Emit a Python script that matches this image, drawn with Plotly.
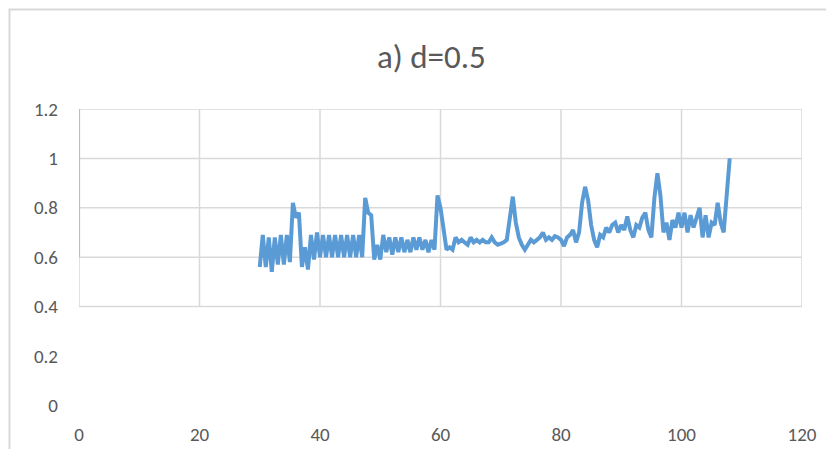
import plotly.graph_objects as go

# ---- data ----
x_vals = [30.0, 30.5, 31.0, 31.5, 32.0, 32.5, 33.0, 33.5, 34.0, 34.5,
          35.0, 35.5, 36.0, 36.5, 37.0, 37.5, 38.0, 38.5, 39.0, 39.5,
          40.0, 40.5, 41.0, 41.5, 42.0, 42.5, 43.0, 43.5, 44.0, 44.5,
          45.0, 45.5, 46.0, 46.5, 47.0, 47.5, 48.0, 48.5, 49.0, 49.5,
          50.0, 50.5, 51.0, 51.5, 52.0, 52.5, 53.0, 53.5, 54.0, 54.5,
          55.0, 55.5, 56.0, 56.5, 57.0, 57.5, 58.0, 58.5, 59.0, 59.5,
          60.0, 60.5, 61.0, 61.5, 62.0, 62.5, 63.0, 63.5, 64.0, 64.5,
          65.0, 65.5, 66.0, 66.5, 67.0, 67.5, 68.0, 68.5, 69.0, 69.5,
          70.0, 70.5, 71.0, 71.5, 72.0, 72.5, 73.0, 73.5, 74.0, 74.5,
          75.0, 75.5, 76.0, 76.5, 77.0, 77.5, 78.0, 78.5, 79.0, 79.5,
          80.0, 80.5, 81.0, 81.5, 82.0, 82.5, 83.0, 83.5, 84.0, 84.5,
          85.0, 85.5, 86.0, 86.5, 87.0, 87.5, 88.0, 88.5, 89.0, 89.5,
          90.0, 90.5, 91.0, 91.5, 92.0, 92.5, 93.0, 93.5, 94.0, 94.5,
          95.0, 95.5, 96.0, 96.5, 97.0, 97.5, 98.0, 98.5, 99.0, 99.5,
          100.0, 100.5, 101.0, 101.5, 102.0, 102.5, 103.0, 103.5, 104.0, 104.5,
          105.0, 105.5, 106.0, 106.5, 107.0, 107.5, 108.0]

y_vals = [0.56, 0.69, 0.56, 0.68, 0.54, 0.68, 0.57, 0.69, 0.57, 0.69,
          0.58, 0.82, 0.76, 0.78, 0.56, 0.64, 0.55, 0.69, 0.59, 0.70,
          0.60, 0.69, 0.60, 0.69, 0.60, 0.69, 0.60, 0.69, 0.60, 0.69,
          0.60, 0.69, 0.60, 0.69, 0.60, 0.84, 0.78, 0.77, 0.59, 0.65,
          0.59, 0.69, 0.62, 0.68, 0.61, 0.68, 0.62, 0.68, 0.62, 0.67,
          0.62, 0.68, 0.63, 0.68, 0.63, 0.67, 0.62, 0.67, 0.63, 0.85,
          0.80, 0.72, 0.63, 0.64, 0.63, 0.68, 0.66, 0.67, 0.66, 0.65,
          0.68, 0.66, 0.67, 0.66, 0.67, 0.66, 0.66, 0.68, 0.66, 0.65,
          0.655, 0.66, 0.67, 0.75, 0.845, 0.74, 0.68, 0.65, 0.63, 0.65,
          0.67, 0.66, 0.67, 0.68, 0.70, 0.67, 0.68, 0.67, 0.685, 0.68,
          0.67, 0.645, 0.68, 0.69, 0.71, 0.66, 0.70, 0.82, 0.885, 0.83,
          0.73, 0.67, 0.64, 0.69, 0.68, 0.72, 0.70, 0.73, 0.74, 0.70,
          0.73, 0.71, 0.765, 0.71, 0.68, 0.73, 0.72, 0.76, 0.78, 0.71,
          0.68, 0.84, 0.94, 0.85, 0.70, 0.74, 0.67, 0.75, 0.72, 0.78,
          0.72, 0.78, 0.70, 0.77, 0.72, 0.76, 0.80, 0.68, 0.77, 0.68,
          0.74, 0.73, 0.82, 0.74, 0.70, 0.85, 1.00]

x_ticks = [0, 20, 40, 60, 80, 100, 120]
y_ticks = [0, 0.2, 0.4, 0.6, 0.8, 1.0, 1.2]
y_tick_labels = ["0", "0.2", "0.4", "0.6", "0.8", "1", "1.2"]
grid_y = [0.4, 0.6, 0.8, 1.0, 1.2]
title_text = "a) d=0.5"

FONT = "Carlito, Calibri, Lato, sans-serif"
TXT = "#595959"
GRID = "#D9D9D9"

# the page body has an 8px margin, so the figure is laid out 8px smaller
W, H = 826, 441
L, R, T, B = 71, 32, 101, 28
pw, ph = W - L - R, H - T - B
y_min = -((H - B) - 397.3) / 246.5

fig = go.Figure()
fig.add_trace(go.Scatter(x=x_vals, y=y_vals, mode="lines",
                         line=dict(color="#5B9BD5", width=4),
                         hoverinfo="x+y", showlegend=False))

shapes = []
for gy in grid_y:
    shapes.append(dict(type="line", xref="x", yref="y", x0=x_ticks[0], x1=x_ticks[-1],
                       y0=gy, y1=gy, line=dict(color=GRID, width=1.5), layer="below"))
for gx in x_ticks:
    shapes.append(dict(type="line", xref="x", yref="y", x0=gx, x1=gx,
                       y0=grid_y[0], y1=grid_y[-1], line=dict(color=GRID, width=1.5), layer="below"))
# darker left edge segment
shapes.append(dict(type="line", xref="x", yref="y", x0=0, x1=0, y0=0.6, y1=1.2,
                   line=dict(color="#BDBDBD", width=2.2), layer="below"))
# outer chart frame (top and left edges visible)
shapes.append(dict(type="rect", xref="paper", yref="paper",
                   x0=(1.5 - L) / pw, x1=(W + 20 - L) / pw,
                   y0=-(40) / ph, y1=1 + (T - 1.5) / ph,
                   line=dict(color=GRID, width=2), fillcolor="rgba(0,0,0,0)", layer="below"))

fig.update_layout(
    width=W, height=H,
    margin=dict(l=L, r=R, t=T, b=B, autoexpand=False),
    paper_bgcolor="white", plot_bgcolor="white",
    font=dict(family=FONT, color=TXT, size=19),
    shapes=shapes,
    annotations=[dict(text=title_text, xref="paper", yref="paper",
                      x=(423 - L) / pw, y=1 + (T - 49) / ph,
                      xanchor="center", yanchor="middle", showarrow=False,
                      font=dict(family=FONT, size=33, color=TXT))],
    xaxis=dict(range=[0, 120], tickvals=x_ticks, showgrid=False, zeroline=False,
               showline=False, ticks="", automargin=False,
               tickfont=dict(size=19, color=TXT)),
    yaxis=dict(range=[y_min, 1.2], tickvals=y_ticks, ticktext=y_tick_labels,
               showgrid=False, zeroline=False, showline=False, ticks="", automargin=False,
               ticklabelstandoff=20, tickfont=dict(size=19, color=TXT)),
)

fig.write_html("out.html")
